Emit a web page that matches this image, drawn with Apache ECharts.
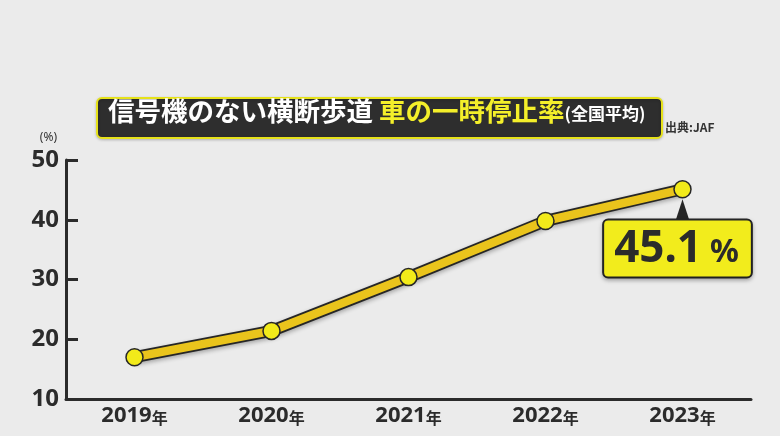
<!DOCTYPE html>
<html>
<head>
<meta charset="utf-8">
<script src="https://cdn.jsdelivr.net/npm/echarts@6/dist/echarts.min.js"></script>
<style>
html,body{margin:0;padding:0;background:#ebebeb;}
#chart{width:780px;height:436px;}
</style>
</head>
<body>
<div id="chart"></div>
<script>
var categories = ['2019年', '2020年', '2021年', '2022年', '2023年'];
var stopRates = [17.0, 21.4, 30.4, 39.8, 45.1];
var yTicks = [10, 20, 30, 40, 50];

var FONT = "'Noto Sans', 'Noto Sans CJK JP', sans-serif";
var JFONT = "'Noto Sans CJK JP', sans-serif";
var lastIdx = stopRates.length - 1;

var goldData = stopRates.map(function (v, i) {
  if (i !== lastIdx) return v;
  return {
    value: v,
    label: {
      show: true,
      position: 'bottom',
      distance: 22,
      offset: [-5, 0],
      formatter: '{n|' + v.toFixed(1) + '}{p|%}',
      backgroundColor: '#f2ec1c',
      borderColor: '#262626',
      borderWidth: 2,
      borderRadius: 4,
      padding: [3, 12, 1, 10],
      shadowColor: 'rgba(0,0,0,0.25)',
      shadowBlur: 4,
      shadowOffsetY: 2,
      rich: {
        n: { fontFamily: FONT, fontWeight: 'bold', fontSize: 44, color: '#2b2b2b', lineHeight: 52 },
        p: { fontFamily: FONT, fontWeight: 'bold', fontSize: 32, color: '#2b2b2b', lineHeight: 52, padding: [6, 0, 0, 8] }
      }
    }
  };
});

var chart = echarts.init(document.getElementById('chart'), null, { renderer: 'canvas' });
chart.setOption({
  backgroundColor: '#ebebeb',
  animation: false,
  graphic: [
    {
      type: 'rect',
      left: 96,
      top: 97,
      shape: { width: 565, height: 40, r: 5 },
      style: { fill: '#2e2e2e', stroke: '#e6e21a', lineWidth: 2, shadowColor: 'rgba(0,0,0,0.2)', shadowBlur: 3, shadowOffsetY: 1 },
      z: 10
    },
    {
      type: 'text',
      left: 108,
      top: 98,
      z: 11,
      style: {
        text: '{a|信号機のない横断歩道 }{b|車の一時停止率}{c|(全国平均)}',
        rich: {
          a: { fontFamily: JFONT, fontWeight: 'bold', fontSize: 26.5, fill: '#ffffff', lineHeight: 38 },
          b: { fontFamily: JFONT, fontWeight: 'bold', fontSize: 26.5, fill: '#f4ef2a', lineHeight: 38 },
          c: { fontFamily: JFONT, fontWeight: 'bold', fontSize: 17, fill: '#ffffff', lineHeight: 38, padding: [5, 0, 0, 0] }
        }
      }
    },
    {
      type: 'text',
      left: 665,
      top: 121,
      style: { text: '出典:JAF', fontFamily: JFONT, fontWeight: 'bold', fontSize: 12, fill: '#333333' }
    }
  ],
  grid: { left: 66, right: 29, top: 160, bottom: 37, containLabel: false },
  xAxis: {
    type: 'category',
    data: categories,
    boundaryGap: true,
    axisLine: { show: true, lineStyle: { color: '#2b2b2b', width: 3 } },
    axisTick: { show: false },
    axisLabel: {
      margin: 6,
      formatter: function (v) { return '{y|' + v.replace('年', '') + '}{n|年}'; },
      rich: {
        y: { fontFamily: FONT, fontWeight: 'bold', fontSize: 22, color: '#2b2b2b' },
        n: { fontFamily: JFONT, fontWeight: 'bold', fontSize: 16, color: '#2b2b2b', padding: [3, 0, 0, 0] }
      }
    },
    splitLine: { show: false }
  },
  yAxis: {
    type: 'value',
    min: yTicks[0],
    max: yTicks[yTicks.length - 1],
    interval: yTicks[1] - yTicks[0],
    name: '(%)',
    nameLocation: 'end',
    nameGap: 16,
    nameTextStyle: { fontFamily: FONT, fontSize: 12, color: '#333333', align: 'right', padding: [0, 9, 0, 0] },
    axisLine: { show: true, lineStyle: { color: '#2b2b2b', width: 3 } },
    axisTick: { show: true, inside: true, length: 12, lineStyle: { color: '#2b2b2b', width: 3 } },
    axisLabel: { margin: 7, fontFamily: FONT, fontWeight: 'bold', fontSize: 24, color: '#2b2b2b' },
    splitLine: { show: false }
  },
  series: [
    {
      type: 'line',
      data: stopRates,
      symbol: 'none',
      silent: true,
      z: 2,
      lineStyle: { color: '#262626', width: 12, shadowColor: 'rgba(0,0,0,0.3)', shadowBlur: 4, shadowOffsetY: 2 }
    },
    {
      type: 'line',
      data: goldData,
      symbol: 'circle',
      symbolSize: 17,
      silent: true,
      z: 3,
      lineStyle: { color: '#eac41c', width: 8.5 },
      itemStyle: { color: '#f2ea1a', borderColor: '#262626', borderWidth: 1.5 },
      markPoint: {
        silent: true,
        symbol: 'triangle',
        symbolSize: [13, 20],
        symbolOffset: [0, 20],
        itemStyle: { color: '#262626' },
        label: { show: false },
        data: [{ coord: [categories[lastIdx], stopRates[lastIdx]] }],
        z: 1
      }
    }
  ]
});
</script>
</body>
</html>
